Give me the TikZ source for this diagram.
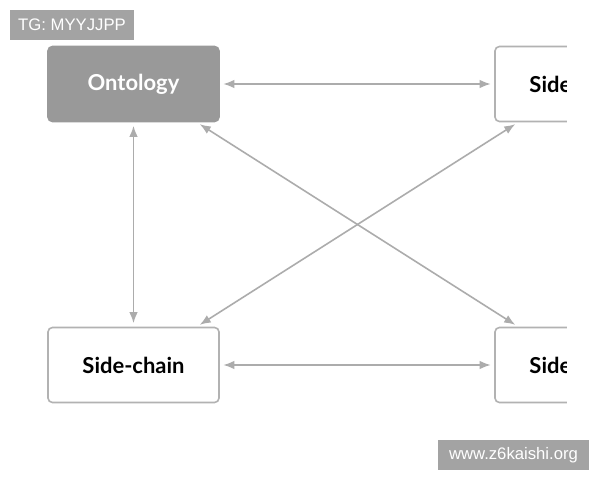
\documentclass[tikz,border=0pt]{standalone}
\usepackage{fontspec}
\usepackage{tikz}
\usetikzlibrary{positioning,arrows.meta}
\newfontfamily\boxfont{Lato}
\newfontfamily\tagfont{Liberation Sans}
\definecolor{ontofill}{RGB}{153,153,153}
\definecolor{boxline}{RGB}{178,178,178}
\definecolor{arrgray}{RGB}{172,172,172}
\definecolor{tagfill}{RGB}{163,163,163}

\begin{document}
\begin{tikzpicture}[
  x=0.02cm, y=-0.02cm,
  chainbox/.style={draw=boxline, line width=0.9pt, rounded corners=2.5pt,
               minimum width=3.42cm, minimum height=1.5cm, fill=white,
               font=\boxfont\bfseries\fontsize{12.5}{14}\selectfont},
  ontobox/.style={chainbox, draw=ontofill, fill=ontofill, text=white},
  tagbox/.style={fill=tagfill, text=white, inner sep=0pt, minimum height=0.6cm,
               font=\tagfont\fontsize{9.5}{11}\selectfont},
  arr/.style={{Latex[length=2.2mm,width=1.7mm]}-{Latex[length=2.2mm,width=1.7mm]},
               draw=arrgray, line width=0.9pt, shorten <=2pt, shorten >=2pt}
]
  \useasboundingbox[fill=white] (0,0) rectangle (600,480);

  \node[ontobox] (onto) at (133.5,84) {Ontology};
  \node[chainbox] (chainL) at (133.5,365) {Side-chain};
  \begin{scope}
    \clip (0,0) rectangle (567,480);
    \node[chainbox] (chainTR) at (580.5,84) {Side-chain};
    \node[chainbox] (chainBR) at (580.5,365) {Side-chain};
  \end{scope}

  \draw[arr] (onto.east) -- (chainTR.west);
  \draw[arr] (chainL.east) -- (chainBR.west);
  \draw[arr] (onto.south) -- (chainL.north);
  \draw[arr] ([xshift=-0.46cm]onto.south east) -- ([xshift=0.48cm]chainBR.north west);
  \draw[arr] ([xshift=-0.46cm]chainL.north east) -- ([xshift=0.48cm]chainTR.south west);

  \node[tagbox, minimum width=2.48cm] (tg) at (72,25) {TG: MYYJJPP};
  \node[tagbox, minimum width=3.02cm] (site) at (513.5,455) {www.z6kaishi.org};
\end{tikzpicture}
\end{document}
